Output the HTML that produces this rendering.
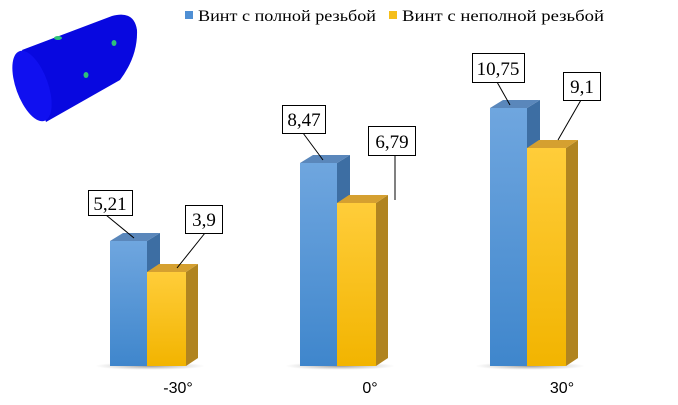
<!DOCTYPE html><html><head><meta charset="utf-8"><style>body{margin:0;background:#fff}svg{display:block}text{font-family:"Liberation Serif",serif}</style></head><body>
<svg width="678" height="405" viewBox="0 0 678 405">
<defs>
<linearGradient id="b" x1="0" y1="0" x2="0" y2="1"><stop offset="0" stop-color="#6fa6df"/><stop offset="1" stop-color="#3f86cc"/></linearGradient>
<linearGradient id="y" x1="0" y1="0" x2="0" y2="1"><stop offset="0" stop-color="#ffcd3a"/><stop offset="1" stop-color="#f2b400"/></linearGradient>
<radialGradient id="sh"><stop offset="0" stop-color="#555" stop-opacity=".6"/><stop offset="1" stop-color="#888" stop-opacity="0"/></radialGradient>
</defs>
<!-- cylinder -->
<path d="M22,50 L112,16 Q134,10 137,30 Q138,56 120,80 L46,122 Z" fill="#0808e0"/>
<ellipse cx="32" cy="86" rx="16" ry="37" transform="rotate(-20 32 86)" fill="#1010f0"/>
<ellipse cx="58" cy="38" rx="4" ry="2" fill="#2ec07a"/><ellipse cx="114" cy="43" rx="2.5" ry="3" fill="#2ec07a"/><ellipse cx="86" cy="75" rx="2.5" ry="3" fill="#2ec07a"/>
<!-- legend -->
<rect x="185" y="11" width="8" height="8" fill="#4f8fd4"/>
<text x="198" y="21" font-size="16" textLength="178" lengthAdjust="spacingAndGlyphs">Винт с полной резьбой</text>
<rect x="389" y="11" width="8" height="8" fill="#f5be1a"/>
<text x="402" y="21" font-size="16" textLength="202" lengthAdjust="spacingAndGlyphs">Винт с неполной резьбой</text>
<g>
<ellipse cx="150" cy="366" rx="55" ry="4" fill="url(#sh)"/>
<polygon points="147,241 160,233 160,366 147,366" fill="#3d6ea3"/><polygon points="110,241 123,233 160,233 147,241" fill="#5a87bb"/><rect x="110" y="241" width="37" height="125" fill="url(#b)"/>
<polygon points="186,272 198,264 198,358 186,366" fill="#b08420"/><polygon points="147,272 159,264 198,264 186,272" fill="#d5a030"/><rect x="147" y="272" width="39" height="94" fill="url(#y)"/>
</g>
<g>
<ellipse cx="340" cy="366" rx="55" ry="4" fill="url(#sh)"/>
<polygon points="337,163 350,155 350,366 337,366" fill="#3d6ea3"/><polygon points="300,163 313,155 350,155 337,163" fill="#5a87bb"/><rect x="300" y="163" width="37" height="203" fill="url(#b)"/>
<polygon points="376,203 388,195 388,358 376,366" fill="#b08420"/><polygon points="337,203 349,195 388,195 376,203" fill="#d5a030"/><rect x="337" y="203" width="39" height="163" fill="url(#y)"/>
</g>
<g>
<ellipse cx="530" cy="366" rx="55" ry="4" fill="url(#sh)"/>
<polygon points="527,108 540,100 540,366 527,366" fill="#3d6ea3"/><polygon points="490,108 503,100 540,100 527,108" fill="#5a87bb"/><rect x="490" y="108" width="37" height="258" fill="url(#b)"/>
<polygon points="566,148 578,140 578,358 566,366" fill="#b08420"/><polygon points="527,148 539,140 578,140 566,148" fill="#d5a030"/><rect x="527" y="148" width="39" height="218" fill="url(#y)"/>
</g>
<g stroke="#000" stroke-width="1" fill="#fff">
<line x1="106" y1="215" x2="134" y2="238"/><rect x="88.5" y="190.5" width="44" height="25"/>
<line x1="205" y1="233" x2="177" y2="268"/><rect x="185.5" y="205.5" width="37" height="28"/>
<line x1="303" y1="133" x2="323" y2="160"/><rect x="282.5" y="105.5" width="43" height="28"/>
<line x1="395" y1="155" x2="395" y2="200"/><rect x="368.5" y="126.5" width="47" height="29"/>
<line x1="497" y1="82" x2="510" y2="105"/><rect x="472.5" y="53.5" width="52" height="29"/>
<line x1="581" y1="100" x2="558" y2="140"/><rect x="563.5" y="72.5" width="37" height="28"/>
</g>
<g font-size="19" text-anchor="middle">
<text x="110" y="210">5,21</text><text x="204" y="226">3,9</text><text x="304" y="126">8,47</text><text x="392" y="148">6,79</text><text x="498" y="75">10,75</text><text x="582" y="93">9,1</text>
</g>
<g font-size="16" text-anchor="middle">
<text x="178" y="393" style="font-family:'Liberation Sans'">-30°</text><text x="370" y="393" style="font-family:'Liberation Sans'">0°</text><text x="562" y="393" style="font-family:'Liberation Sans'">30°</text>
</g>
</svg>
</body></html>
